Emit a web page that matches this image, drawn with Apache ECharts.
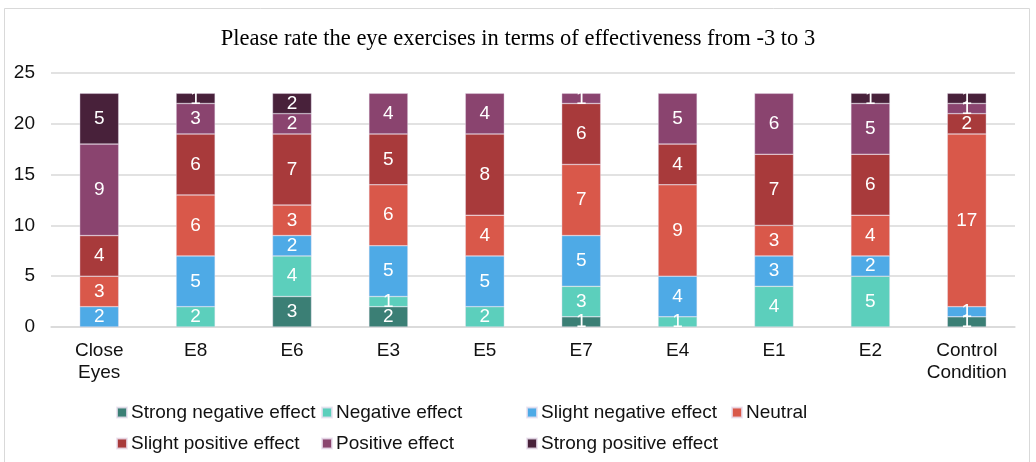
<!DOCTYPE html>
<html>
<head>
<meta charset="utf-8">
<script src="https://cdn.jsdelivr.net/npm/echarts@6/dist/echarts.min.js"></script>
<style>
  html, body { margin: 0; padding: 0; background: #fff; }
  #chart { width: 1036px; height: 462px; }
</style>
</head>
<body>
<div id="chart"></div>
<script>
// categories on x axis
const categories = ['Close\nEyes', 'E8', 'E6', 'E3', 'E5', 'E7', 'E4', 'E1', 'E2', 'Control\nCondition']

// answers per rating, bottom to top of each bar
const strongNegative = [0, 0, 3, 2, 0, 1, 0, 0, 0, 1]
const negative       = [0, 2, 4, 1, 2, 3, 1, 4, 5, 0]
const slightNegative = [2, 5, 2, 5, 5, 5, 4, 3, 2, 1]
const neutral        = [3, 6, 3, 6, 4, 7, 9, 3, 4, 17]
const slightPositive = [4, 6, 7, 5, 8, 6, 4, 7, 6, 2]
const positive       = [9, 3, 2, 4, 4, 1, 5, 6, 5, 1]
const strongPositive = [5, 1, 2, 0, 0, 0, 0, 0, 1, 1]

const yTicks = [0, 5, 10, 15, 20, 25]

const seriesList = [
  { name: 'Strong negative effect', data: strongNegative, color: '#3b7f75' },
  { name: 'Negative effect', data: negative, color: '#5ccfbc' },
  { name: 'Slight negative effect', data: slightNegative, color: '#4eaae6' },
  { name: 'Neutral', data: neutral, color: '#d9584a' },
  { name: 'Slight positive effect', data: slightPositive, color: '#a83a3b' },
  { name: 'Positive effect', data: positive, color: '#8a446f' },
  { name: 'Strong positive effect', data: strongPositive, color: '#48213a' }
]

const chart = echarts.init(document.getElementById('chart'), null, { renderer: 'canvas' })

// legend is laid out in columns like the original, one legend per column
const legendCols = [
  { left: 116, names: ['Strong negative effect', 'Slight positive effect'] },
  { left: 321, names: ['Negative effect', 'Positive effect'] },
  { left: 526, names: ['Slight negative effect', 'Strong positive effect'] },
  { left: 731, names: ['Neutral'] }
]

const option = {
  backgroundColor: '#fff',
  animation: false,
  title: {
    text: 'Please rate the eye exercises in terms of effectiveness from -3 to 3',
    left: 'center',
    top: 23,
    textStyle: {
      fontFamily: 'Liberation Serif',
      fontWeight: 'normal',
      fontSize: 22.5,
      color: '#000'
    }
  },
  legend: legendCols.map(c => ({
    data: c.names,
    orient: 'vertical',
    left: c.left,
    top: 403,
    itemWidth: 10,
    itemHeight: 10,
    itemGap: 12,
    icon: 'rect',
    padding: 0,
    selectedMode: false,
    textStyle: {
      fontFamily: 'Liberation Sans',
      fontSize: 19,
      color: '#111',
      padding: [0, 0, 0, -1]
    }
  })),
  grid: {
    left: 51,
    right: 21,
    top: 73,
    bottom: 135
  },
  xAxis: {
    type: 'category',
    data: categories,
    axisTick: { show: false },
    axisLine: { lineStyle: { color: '#d9d9d9', width: 1.5 } },
    axisLabel: {
      interval: 0,
      margin: 13,
      fontFamily: 'Liberation Sans',
      fontSize: 19,
      lineHeight: 22,
      color: '#111'
    }
  },
  yAxis: {
    type: 'value',
    min: yTicks[0],
    max: yTicks[yTicks.length - 1],
    interval: 5,
    axisLine: { show: false },
    axisTick: { show: false },
    splitLine: { lineStyle: { color: '#d9d9d9', width: 1.5 } },
    axisLabel: {
      margin: 16,
      fontFamily: 'Liberation Sans',
      fontSize: 19,
      color: '#111'
    }
  },
  series: seriesList.map(s => ({
    name: s.name,
    type: 'bar',
    stack: 'total',
    barWidth: 39,
    data: s.data.map(v => (v === 0 ? null : v)),
    itemStyle: {
      color: s.color,
      borderColor: 'rgba(235,225,240,0.8)',
      borderWidth: 0.5
    },
    label: {
      show: true,
      position: 'inside',
      color: '#fff',
      fontFamily: 'Liberation Sans',
      fontSize: 19
    }
  })),
  graphic: [{
    type: 'rect',
    shape: { x: 4.5, y: 8.5, width: 1025, height: 460 },
    style: { fill: null, stroke: '#d9d9d9', lineWidth: 1 },
    silent: true
  }]
}

chart.setOption(option)
</script>
</body>
</html>
